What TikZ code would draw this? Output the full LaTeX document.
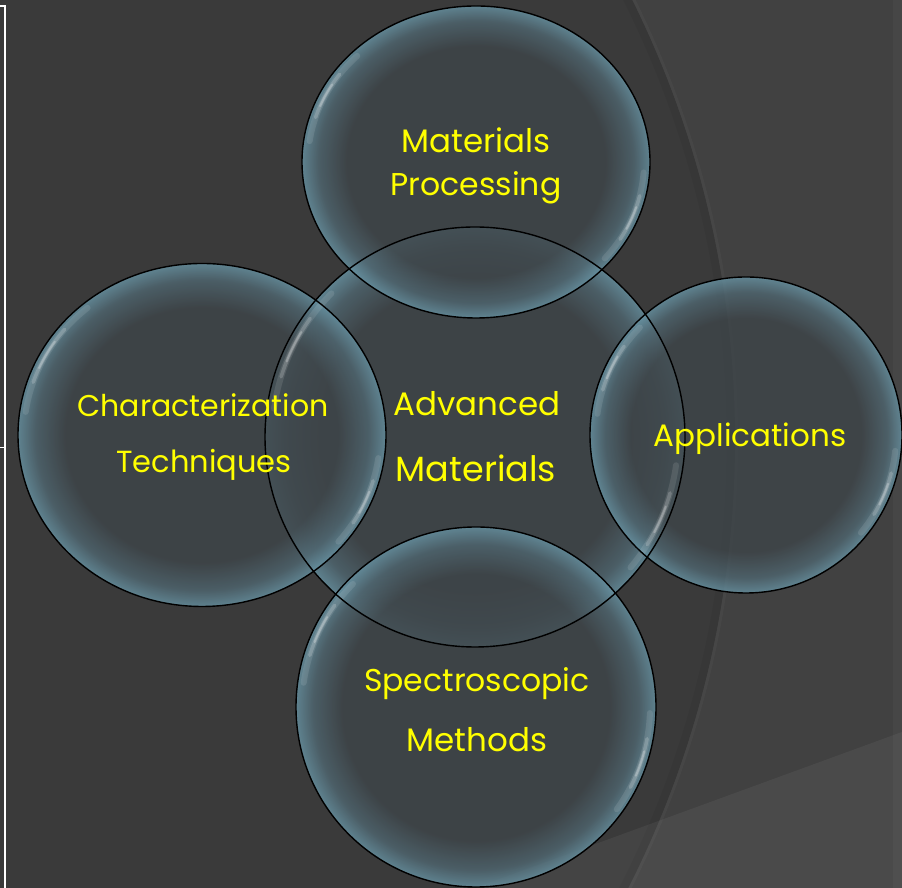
\documentclass[tikz,border=0pt]{standalone}
\usepackage{fontspec}
\setmainfont{Poppins}
\usetikzlibrary{shapes.geometric}
\definecolor{bgbase}{HTML}{3A3A3A}
\definecolor{bgright}{HTML}{414141}
\definecolor{bubin}{HTML}{3E4549}
\definecolor{bubmid}{HTML}{4F6670}
\definecolor{bubedge}{HTML}{6792A2}
\definecolor{txtyellow}{HTML}{FFFF00}
\pgfdeclareradialshading{bubble}{\pgfpoint{0bp}{0bp}}{color(0bp)=(bubin); color(18.5bp)=(bubin); color(22.6bp)=(bubmid); color(25bp)=(bubedge); color(50bp)=(bubedge)}
\newcommand\shinearc[5]{%
  \draw[white, opacity=.10, line width=6pt, line cap=round] ([shift={(#4:#2 and #3)}]#1) arc[start angle=#4, end angle=#5, x radius=#2, y radius=#3];
  \draw[white, opacity=.18, line width=3.5pt, line cap=round] ([shift={({#4+(#5-#4)/4}:#2 and #3)}]#1) arc[start angle={#4+(#5-#4)/4}, end angle={#5-(#5-#4)/4}, x radius=#2, y radius=#3];
  \draw[white, opacity=.25, line width=2pt, line cap=round] ([shift={({#4+3*(#5-#4)/8}:#2 and #3)}]#1) arc[start angle={#4+3*(#5-#4)/8}, end angle={#5-3*(#5-#4)/8}, x radius=#2, y radius=#3];
}
\begin{document}
\begin{tikzpicture}[x=1pt,y=1pt,
  bub/.style={ellipse, shading=bubble, fill opacity=0.82, inner sep=0pt, outer sep=0pt},
  rim/.style={draw=black, line width=1.4pt},
  lbl/.style={text=txtyellow, anchor=base, inner sep=0pt, font=\fontsize{#1}{#1}\selectfont},
  lbl/.default=31,
  frame/.style={draw=white}]
\useasboundingbox (0,0) rectangle (902,888);
% background
\begin{scope}
\clip (0,0) rectangle (902,888);
\fill[bgright] (0,0) rectangle (902,888);
\fill[bgbase] (-256,448) circle[radius=991pt];
\draw[black, opacity=.05, line width=8pt] (-256,448) circle[radius=987pt];
\draw[white, opacity=.03, line width=3pt] (-256,448) circle[radius=992.5pt];
\fill[white, opacity=.05] (475,0) -- (902,156) -- (902,0) -- cycle;
\fill[white, opacity=.03] (893,0) rectangle (902,888);
\end{scope}
% left frame line
\coordinate (ftop) at (5,882);
\coordinate (fbot) at (5,0);
\coordinate (ftl) at (0,882);
\coordinate (fml) at (0,440);
\coordinate (fmr) at (5,440);
\draw[frame, line width=2pt] (ftl) -- (ftop) -- (fbot);
\draw[frame, line width=1pt] (fml) -- (fmr);
% bubbles
\node[bub, minimum width=420pt, minimum height=420pt] (adv) at (475,451) {};
\node[bub, minimum width=348pt, minimum height=312pt] (mp) at (476,726) {};
\node[bub, minimum width=368pt, minimum height=343pt] (ct) at (202,453) {};
\node[bub, minimum width=312pt, minimum height=316pt] (app) at (746,453) {};
\node[bub, minimum width=360pt, minimum height=360pt] (sm) at (476,181) {};
% shine
\shinearc{adv.center}{203pt}{203pt}{135}{172}
\shinearc{adv.center}{203pt}{203pt}{-40}{-8}
\shinearc{mp.center}{168pt}{150pt}{135}{172}
\shinearc{mp.center}{168pt}{150pt}{-40}{-4}
\shinearc{ct.center}{178pt}{166pt}{130}{172}
\shinearc{ct.center}{178pt}{166pt}{-40}{-8}
\shinearc{app.center}{150pt}{152pt}{135}{172}
\shinearc{app.center}{150pt}{152pt}{-40}{-6}
\shinearc{sm.center}{174pt}{174pt}{135}{172}
\shinearc{sm.center}{174pt}{174pt}{-36}{-2}
% outlines
\draw[rim] (adv.center) ellipse[x radius=210pt, y radius=210pt];
\draw[rim] (mp.center) ellipse[x radius=174pt, y radius=156pt];
\draw[rim] (ct.center) ellipse[x radius=184pt, y radius=171.5pt];
\draw[rim] (app.center) ellipse[x radius=156pt, y radius=158pt];
\draw[rim] (sm.center) ellipse[x radius=180pt, y radius=180pt];
% labels
\node[lbl=32.5] (mp1) at (476,735) {Materials};
\node[lbl=31.5] (mp2) at (476,692) {Processing};
\node[lbl=30] (ct1) at (203,471) {Characterization};
\node[lbl=30.5] (ct2) at (204,415) {Techniques};
\node[lbl=32.5] (adv1) at (477,472) {Advanced};
\node[lbl=35] (adv2) at (476,406) {Materials};
\node[lbl] (app1) at (750,441) {Applications};
\node[lbl=31.5] (sm1) at (477,196) {Spectroscopic};
\node[lbl=32.5] (sm2) at (477,136) {Methods};
\end{tikzpicture}
\end{document}
